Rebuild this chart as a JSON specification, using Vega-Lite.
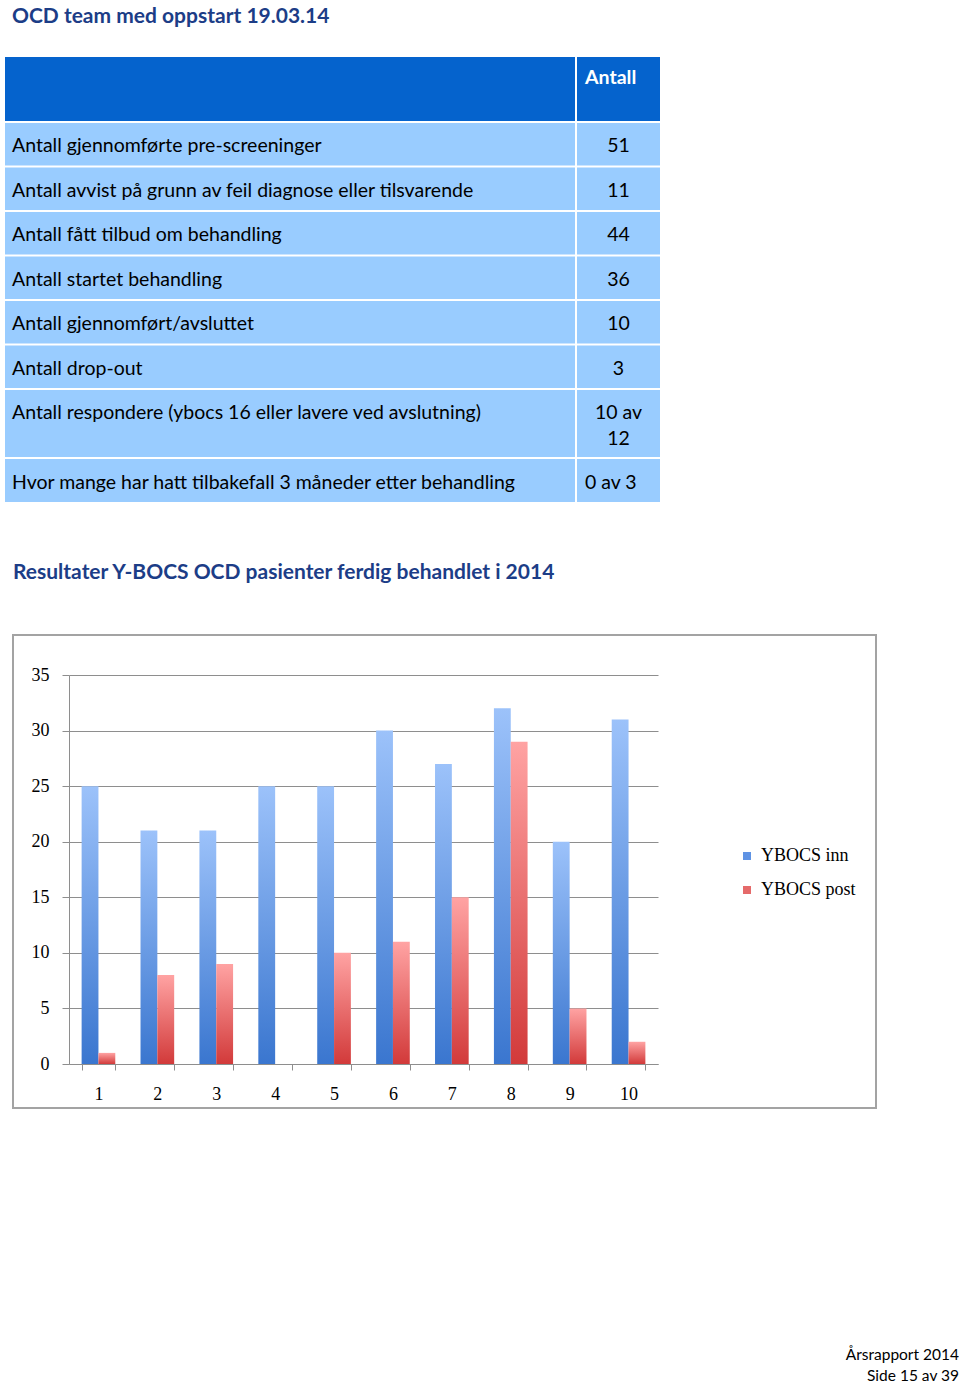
{
  "$schema": "https://vega.github.io/schema/vega-lite/v6.json",
  "padding": {"left": 5, "top": 6, "right": 0, "bottom": 0},
  "background": "white",
  "config": {
    "view": {"stroke": null},
    "text": {"font": "Lato", "fontSize": 19.5, "color": "#000000", "dy": 2},
    "title": {"font": "Lato", "fontSize": 21, "fontWeight": "bold", "color": "#1C3D87", "anchor": "start"}
  },
  "datasets": {
    "table": [
      {"sec": "head", "row": "0", "label": "", "value": "Antall"},
      {"sec": "body", "row": "1", "label": "Antall gjennomførte pre-screeninger", "value": "51"},
      {"sec": "body", "row": "2", "label": "Antall avvist på grunn av feil diagnose eller tilsvarende", "value": "11"},
      {"sec": "body", "row": "3", "label": "Antall fått tilbud om behandling", "value": "44"},
      {"sec": "body", "row": "4", "label": "Antall startet behandling", "value": "36"},
      {"sec": "body", "row": "5", "label": "Antall gjennomført/avsluttet", "value": "10"},
      {"sec": "body", "row": "6", "label": "Antall drop-out", "value": "3"},
      {"sec": "r7", "row": "7", "label": "Antall respondere (ybocs 16 eller lavere ved avslutning)", "value": "10 av\n12"},
      {"sec": "r8", "row": "8", "label": "Hvor mange har hatt tilbakefall 3 måneder etter behandling", "value": "0 av 3"}
    ],
    "ybocs": [
      {"patient": 1, "series": "YBOCS inn", "score": 25}, {"patient": 1, "series": "YBOCS post", "score": 1},
      {"patient": 2, "series": "YBOCS inn", "score": 21}, {"patient": 2, "series": "YBOCS post", "score": 8},
      {"patient": 3, "series": "YBOCS inn", "score": 21}, {"patient": 3, "series": "YBOCS post", "score": 9},
      {"patient": 4, "series": "YBOCS inn", "score": 25}, {"patient": 4, "series": "YBOCS post", "score": 0},
      {"patient": 5, "series": "YBOCS inn", "score": 25}, {"patient": 5, "series": "YBOCS post", "score": 10},
      {"patient": 6, "series": "YBOCS inn", "score": 30}, {"patient": 6, "series": "YBOCS post", "score": 11},
      {"patient": 7, "series": "YBOCS inn", "score": 27}, {"patient": 7, "series": "YBOCS post", "score": 15},
      {"patient": 8, "series": "YBOCS inn", "score": 32}, {"patient": 8, "series": "YBOCS post", "score": 29},
      {"patient": 9, "series": "YBOCS inn", "score": 20}, {"patient": 9, "series": "YBOCS post", "score": 5},
      {"patient": 10, "series": "YBOCS inn", "score": 31}, {"patient": 10, "series": "YBOCS post", "score": 2}
    ],
    "footer": [
      {"i": 1, "line": "Årsrapport 2014"},
      {"i": 2, "line": "Side 15 av 39"}
    ]
  },
  "spacing": 235,
  "vconcat": [
    {
      "spacing": 59,
      "vconcat": [
        {
          "title": {"text": "OCD team med oppstart 19.03.14", "dx": 7, "offset": 30},
          "spacing": 2,
          "vconcat": [
            {
              "spacing": 2,
              "hconcat": [
                {
                  "width": 570, "height": 64,
                  "data": {"name": "table"},
                  "transform": [{"filter": "datum.sec === 'head'"}],
                  "mark": {"type": "rect", "color": "#0563CD"},
                  "encoding": {
                    "y": {"field": "row", "type": "nominal", "axis": null, "scale": {"type": "band", "paddingInner": 0, "paddingOuter": 0}},
                    "x": {"datum": 0, "type": "quantitative", "axis": null, "scale": {"domain": [0, 1]}},
                    "x2": {"datum": 1}
                  }
                },
                {
                  "width": 83, "height": 64,
                  "data": {"name": "table"},
                  "transform": [{"filter": "datum.sec === 'head'"}],
                  "encoding": {
                    "y": {"field": "row", "type": "nominal", "axis": null, "scale": {"type": "band", "paddingInner": 0, "paddingOuter": 0}}
                  },
                  "layer": [
                    {"mark": {"type": "rect", "color": "#0563CD"},
                     "encoding": {"x": {"datum": 0, "type": "quantitative", "axis": null, "scale": {"domain": [0, 1]}}, "x2": {"datum": 1}}},
                    {"mark": {"type": "text", "align": "left", "dx": 8, "dy": -11, "color": "white", "fontWeight": "bold"},
                     "encoding": {"x": {"datum": 0, "type": "quantitative", "axis": null, "scale": {"domain": [0, 1]}}, "text": {"field": "value"}}}
                  ]
                }
              ]
            },
            {
              "spacing": 2,
              "hconcat": [
                {
                  "width": 570, "height": 265,
                  "data": {"name": "table"},
                  "transform": [{"filter": "datum.sec === 'body'"}],
                  "encoding": {
                    "y": {"field": "row", "type": "nominal", "axis": null, "scale": {"type": "band", "paddingInner": 0.045, "paddingOuter": 0}}
                  },
                  "layer": [
                    {"mark": {"type": "rect", "color": "#99CCFF"},
                     "encoding": {"x": {"datum": 0, "type": "quantitative", "axis": null, "scale": {"domain": [0, 1]}}, "x2": {"datum": 1}}},
                    {"mark": {"type": "text", "align": "left", "dx": 7},
                     "encoding": {"x": {"datum": 0, "type": "quantitative", "axis": null, "scale": {"domain": [0, 1]}}, "text": {"field": "label"}}}
                  ]
                },
                {
                  "width": 83, "height": 265,
                  "data": {"name": "table"},
                  "transform": [{"filter": "datum.sec === 'body'"}],
                  "encoding": {
                    "y": {"field": "row", "type": "nominal", "axis": null, "scale": {"type": "band", "paddingInner": 0.045, "paddingOuter": 0}}
                  },
                  "layer": [
                    {"mark": {"type": "rect", "color": "#99CCFF"},
                     "encoding": {"x": {"datum": 0, "type": "quantitative", "axis": null, "scale": {"domain": [0, 1]}}, "x2": {"datum": 1}}},
                    {"mark": {"type": "text", "align": "center"},
                     "encoding": {"x": {"datum": 0.5, "type": "quantitative", "axis": null, "scale": {"domain": [0, 1]}}, "text": {"field": "value"}}}
                  ]
                }
              ]
            },
            {
              "spacing": 2,
              "hconcat": [
                {
                  "width": 570, "height": 67,
                  "data": {"name": "table"},
                  "transform": [{"filter": "datum.sec === 'r7'"}],
                  "encoding": {
                    "y": {"field": "row", "type": "nominal", "axis": null, "scale": {"type": "band", "paddingInner": 0, "paddingOuter": 0}}
                  },
                  "layer": [
                    {"mark": {"type": "rect", "color": "#99CCFF"},
                     "encoding": {"x": {"datum": 0, "type": "quantitative", "axis": null, "scale": {"domain": [0, 1]}}, "x2": {"datum": 1}}},
                    {"mark": {"type": "text", "align": "left", "dx": 7, "dy": -10.5},
                     "encoding": {"x": {"datum": 0, "type": "quantitative", "axis": null, "scale": {"domain": [0, 1]}}, "text": {"field": "label"}}}
                  ]
                },
                {
                  "width": 83, "height": 67,
                  "data": {"name": "table"},
                  "transform": [{"filter": "datum.sec === 'r7'"}],
                  "encoding": {
                    "y": {"field": "row", "type": "nominal", "axis": null, "scale": {"type": "band", "paddingInner": 0, "paddingOuter": 0}}
                  },
                  "layer": [
                    {"mark": {"type": "rect", "color": "#99CCFF"},
                     "encoding": {"x": {"datum": 0, "type": "quantitative", "axis": null, "scale": {"domain": [0, 1]}}, "x2": {"datum": 1}}},
                    {"mark": {"type": "text", "align": "center", "lineBreak": "\n", "lineHeight": 26, "dy": -11},
                     "encoding": {"x": {"datum": 0.5, "type": "quantitative", "axis": null, "scale": {"domain": [0, 1]}}, "text": {"field": "value"}}}
                  ]
                }
              ]
            },
            {
              "spacing": 2,
              "hconcat": [
                {
                  "width": 570, "height": 43,
                  "data": {"name": "table"},
                  "transform": [{"filter": "datum.sec === 'r8'"}],
                  "encoding": {
                    "y": {"field": "row", "type": "nominal", "axis": null, "scale": {"type": "band", "paddingInner": 0, "paddingOuter": 0}}
                  },
                  "layer": [
                    {"mark": {"type": "rect", "color": "#99CCFF"},
                     "encoding": {"x": {"datum": 0, "type": "quantitative", "axis": null, "scale": {"domain": [0, 1]}}, "x2": {"datum": 1}}},
                    {"mark": {"type": "text", "align": "left", "dx": 7},
                     "encoding": {"x": {"datum": 0, "type": "quantitative", "axis": null, "scale": {"domain": [0, 1]}}, "text": {"field": "label"}}}
                  ]
                },
                {
                  "width": 83, "height": 43,
                  "data": {"name": "table"},
                  "transform": [{"filter": "datum.sec === 'r8'"}],
                  "encoding": {
                    "y": {"field": "row", "type": "nominal", "axis": null, "scale": {"type": "band", "paddingInner": 0, "paddingOuter": 0}}
                  },
                  "layer": [
                    {"mark": {"type": "rect", "color": "#99CCFF"},
                     "encoding": {"x": {"datum": 0, "type": "quantitative", "axis": null, "scale": {"domain": [0, 1]}}, "x2": {"datum": 1}}},
                    {"mark": {"type": "text", "align": "left", "dx": 8},
                     "encoding": {"x": {"datum": 0, "type": "quantitative", "axis": null, "scale": {"domain": [0, 1]}}, "text": {"field": "value"}}}
                  ]
                }
              ]
            }
          ]
        },
        {
          "spacing": 6,
          "hconcat": [
            {
              "width": 1, "height": 1,
              "data": {"values": [{"t": ""}]},
              "mark": {"type": "text"},
              "encoding": {"text": {"field": "t"}}
            },
            {
              "width": 863, "height": 473,
              "view": {"stroke": "#A3A3A3", "strokeWidth": 2},
              "title": {"text": "Resultater Y-BOCS OCD pasienter ferdig behandlet i 2014", "offset": 52},
              "data": {"name": "ybocs"},
              "encoding": {
                "x": {
                  "field": "patient", "type": "ordinal",
                  "scale": {"range": [56, 645], "paddingInner": 0.4286, "paddingOuter": 0.2143},
                  "axis": {"orient": "bottom", "offset": -44, "title": null, "labelAngle": 0, "labelFont": "Liberation Serif", "labelFontSize": 18, "labelColor": "#000000", "labelPadding": 15, "domainColor": "#8E8E8E", "tickColor": "#8E8E8E", "tickBand": "extent", "tickSize": 6, "grid": false}
                },
                "xOffset": {"field": "series", "type": "nominal", "scale": {"paddingInner": 0, "paddingOuter": 0}},
                "y": {
                  "field": "score", "type": "quantitative",
                  "scale": {"domain": [0, 35], "range": [429, 40], "nice": false},
                  "axis": {"orient": "left", "offset": -56, "title": null, "values": [0, 5, 10, 15, 20, 25, 30, 35], "labelFont": "Liberation Serif", "labelFontSize": 18, "labelColor": "#000000", "labelPadding": 13, "domainColor": "#8E8E8E", "tickColor": "#8E8E8E", "tickSize": 7, "grid": true, "gridColor": "#8E8E8E", "gridOpacity": 1}
                }
              },
              "layer": [
                {
                  "mark": {"type": "bar"},
                  "encoding": {
                    "fill": {
                      "condition": {"test": "datum.series === 'YBOCS inn'", "value": {"gradient": "linear", "x1": 0, "y1": 0, "x2": 0, "y2": 1, "stops": [{"offset": 0, "color": "#9CC2FA"}, {"offset": 1, "color": "#3A76CF"}]}},
                      "value": {"gradient": "linear", "x1": 0, "y1": 0, "x2": 0, "y2": 1, "stops": [{"offset": 0, "color": "#FFA3A3"}, {"offset": 1, "color": "#D23A3A"}]}
                    }
                  }
                },
                {
                  "mark": {"type": "bar", "opacity": 0},
                  "encoding": {
                    "color": {
                      "field": "series", "type": "nominal",
                      "scale": {"domain": ["YBOCS inn", "YBOCS post"], "range": ["#5F93E4", "#E56A6A"]},
                      "legend": {"orient": "none", "legendX": 733, "legendY": 790, "title": null, "symbolType": "square", "symbolSize": 64, "symbolOpacity": 1, "symbolStrokeWidth": 0, "labelFont": "Liberation Serif", "labelFontSize": 18, "labelColor": "#000000", "labelOffset": 5, "rowPadding": 16}
                    }
                  }
                }
              ]
            }
          ]
        }
      ]
    },
    {
      "width": 954, "height": 42,
      "data": {"name": "footer"},
      "mark": {"type": "text", "align": "right", "fontSize": 15.5, "dy": 0},
      "encoding": {
        "y": {"field": "i", "type": "ordinal", "axis": null},
        "x": {"datum": 1, "type": "quantitative", "axis": null, "scale": {"domain": [0, 1]}},
        "text": {"field": "line"}
      }
    }
  ]
}
